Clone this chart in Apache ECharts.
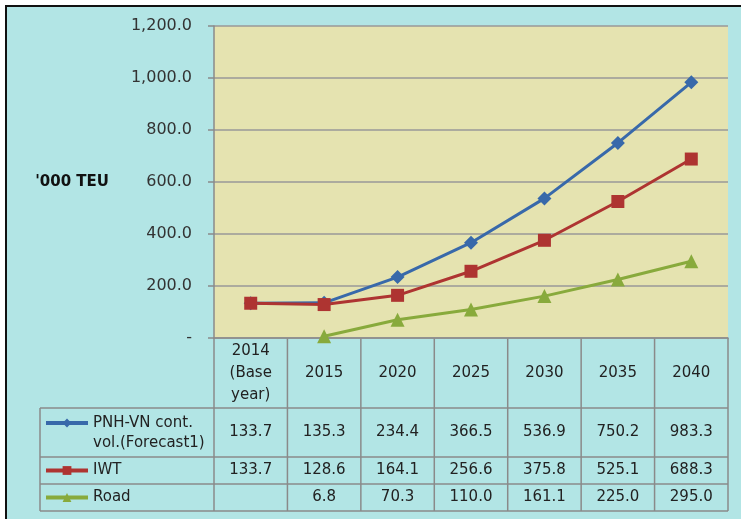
<!DOCTYPE html>
<html lang="en">
  <head>
    <meta charset="UTF-8" />
    <title>Container forecast</title>
    <script src="https://cdn.jsdelivr.net/npm/echarts@6/dist/echarts.min.js"></script>
    <style>
      body { margin: 0; background: #fff; }
    </style>
  </head>
  <body>
    <div id="main" style="width: 741px; height: 519px"></div>
    <script type="text/javascript">
      const categories = ["2014\n(Base\nyear)", "2015", "2020", "2025", "2030", "2035", "2040"];
      const seriesNames = ["PNH-VN cont.\nvol.(Forecast1)", "IWT", "Road"];
      const pnh = [133.7, 135.3, 234.4, 366.5, 536.9, 750.2, 983.3];
      const iwt = [133.7, 128.6, 164.1, 256.6, 375.8, 525.1, 688.3];
      const road = [null, 6.8, 70.3, 110.0, 161.1, 225.0, 295.0];

      const colors = ["#3869AA", "#AE3431", "#88AA3C"];
      const font = "DejaVu Sans";

      // plot area + table layout
      const gLeft = 214, gTop = 26, gW = 514, gH = 312;
      const colW = gW / categories.length;
      const tabLeft = 40;
      const rowLines = [408, 457, 484, 511]; // bottoms of header / rows
      const rowMid = [432, 470.5, 497.5];
      const lineCol = "#8a8a8a";

      let graphic = [
        {
          type: "rect",
          z: -10,
          shape: { x: 6, y: 6, width: 760, height: 540 },
          style: { fill: "#B2E5E5", stroke: "#111", lineWidth: 2 },
        },
      ];
      // horizontal table lines
      rowLines.forEach((y) => {
        graphic.push({
          type: "line",
          shape: { x1: tabLeft, y1: y, x2: gLeft + gW, y2: y },
          style: { stroke: lineCol, lineWidth: 1.5 },
        });
      });
      // vertical table lines
      graphic.push({
        type: "line",
        shape: { x1: tabLeft, y1: rowLines[0], x2: tabLeft, y2: rowLines[3] },
        style: { stroke: lineCol, lineWidth: 1.5 },
      });
      for (let k = 0; k <= categories.length; k++) {
        const x = gLeft + k * colW;
        graphic.push({
          type: "line",
          shape: { x1: x, y1: gTop + gH, x2: x, y2: rowLines[3] },
          style: { stroke: lineCol, lineWidth: 1.5 },
        });
      }
      // table values
      [pnh, iwt, road].forEach((arr, r) => {
        arr.forEach((v, i) => {
          if (v == null) return;
          graphic.push({
            type: "text",
            x: gLeft + (i + 0.5) * colW,
            y: rowMid[r],
            style: {
              text: v.toFixed(1),
              fill: "#222",
              font: "15px '" + font + "'",
              align: "center",
              verticalAlign: "middle",
            },
          });
        });
      });

      function legendFor(idx, top, extra) {
        return Object.assign(
          {
            data: [seriesNames[idx]],
            left: 44,
            top: top,
            padding: 0,
            itemWidth: 42,
            itemHeight: 11,
            lineStyle: { width: 4 },
            textStyle: { fontFamily: font, fontSize: 15, color: "#222", lineHeight: 20 },
          },
          extra || {}
        );
      }

      function lineSeries(idx, data, symbol, size) {
        return {
          name: seriesNames[idx],
          type: "line",
          data: data,
          symbol: symbol,
          symbolSize: size,
          showAllSymbol: true,
          lineStyle: { color: colors[idx], width: 3 },
          itemStyle: { color: colors[idx] },
          emphasis: { disabled: true },
        };
      }

      let options = {
        animation: false,
        textStyle: { fontFamily: font },
        grid: {
          left: gLeft,
          top: gTop,
          width: gW,
          height: gH,
          show: true,
          backgroundColor: "#E5E3B0",
          borderWidth: 0,
        },
        legend: [
          // blank first line so the icon sits next to the first text line
          legendFor(0, 393, { formatter: () => " \nPNH-VN cont.\nvol.(Forecast1)" }),
          legendFor(1, 460.5),
          legendFor(2, 487.5),
        ],
        xAxis: {
          type: "category",
          data: categories,
          boundaryGap: true,
          axisLine: { lineStyle: { color: lineCol, width: 1.5 } },
          axisTick: { show: false },
          axisLabel: {
            interval: 0,
            margin: 35,
            verticalAlign: "middle",
            lineHeight: 22,
            fontSize: 15,
            color: "#222",
          },
        },
        yAxis: {
          type: "value",
          min: 0,
          max: 1200,
          interval: 200,
          name: "'000 TEU",
          nameLocation: "middle",
          nameRotate: 0,
          nameGap: 105,
          nameTextStyle: { fontWeight: "bold", fontSize: 15, color: "#111" },
          axisLine: { show: true, lineStyle: { color: lineCol, width: 1.5 } },
          axisTick: { show: true, length: 6, lineStyle: { color: lineCol, width: 1.5 } },
          splitLine: { lineStyle: { color: "#999", width: 1.5 } },
          axisLabel: {
            margin: 22,
            fontSize: 16,
            color: "#333",
            formatter: (v) =>
              v === 0
                ? "-"
                : v.toLocaleString("en-US", { minimumFractionDigits: 1, maximumFractionDigits: 1 }),
          },
        },
        series: [
          lineSeries(0, pnh, "diamond", 14),
          lineSeries(1, iwt, "rect", 13),
          lineSeries(2, road, "triangle", 14),
        ],
        graphic: graphic,
      };

      let myChart = echarts.init(document.getElementById("main"));
      myChart.setOption(options);
    </script>
  </body>
</html>
